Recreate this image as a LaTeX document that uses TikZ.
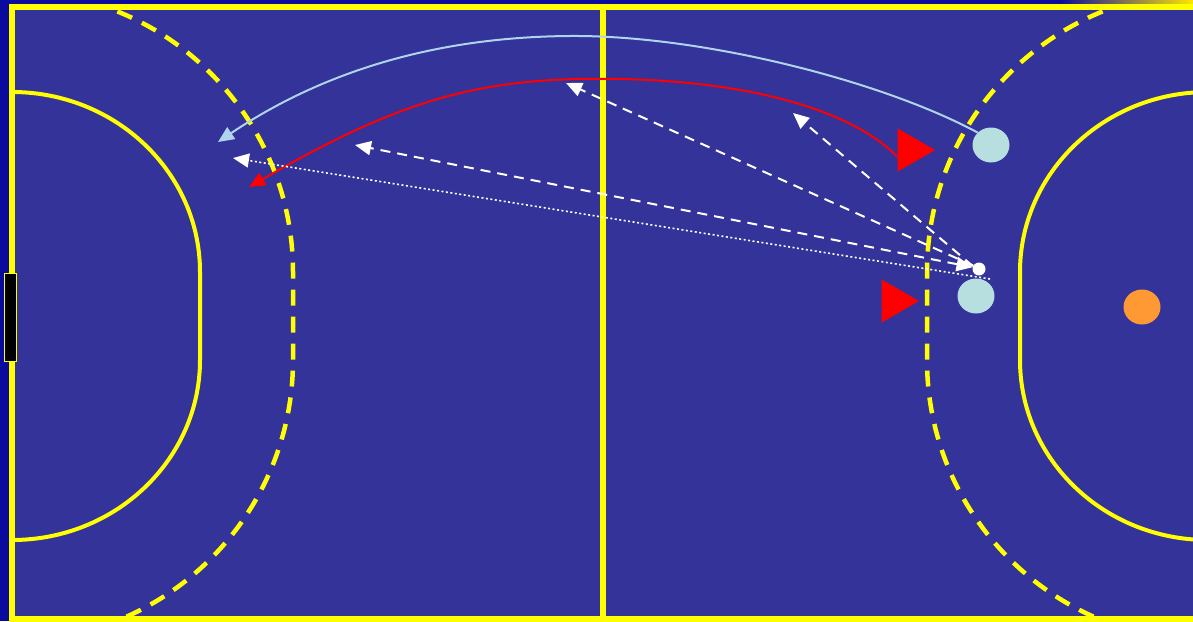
\documentclass[tikz,border=0pt]{standalone}
\usetikzlibrary{arrows.meta,shapes.geometric}
\definecolor{hbBack}{HTML}{0A0A9E}
\definecolor{hbCourt}{HTML}{333399}
\definecolor{hbLine}{HTML}{FFFF00}
\definecolor{hbDef}{HTML}{B8DFE0}
\definecolor{hbKeep}{HTML}{FF9933}
\definecolor{hbAtt}{HTML}{FF0000}
\definecolor{hbRun}{HTML}{B0D4EC}
\begin{document}
\begin{tikzpicture}[x=1pt,y=1pt,
                    courtline/.style={draw=hbLine,line width=6pt},
                    arealine/.style={draw=hbLine,line width=4pt},
                    freeline/.style={draw=hbLine,line width=4.5pt,dash pattern=on 16pt off 11pt},
                    defender/.style={ellipse,fill=hbDef,minimum width=37pt,minimum height=35pt,inner sep=0pt},
                    keeper/.style={ellipse,fill=hbKeep,minimum width=37pt,minimum height=35pt,inner sep=0pt},
                    attacker/.style={regular polygon,regular polygon sides=3,shape border rotate=-90,
                                     fill=hbAtt,minimum size=50pt,inner sep=0pt},
                    ballnode/.style={circle,fill=white,minimum size=13pt,inner sep=0pt},
                    tip/.style={-{Triangle[length=16pt,width=14pt]}},
                    run/.style={tip,draw=hbRun,line width=2pt},
                    move/.style={tip,draw=hbAtt,line width=2pt},
                    pass/.style={tip,draw=white,line width=2pt,dash pattern=on 10pt off 7pt},
                    shot/.style={tip,draw=white,line width=1.6pt,dash pattern=on 2pt off 2.5pt}]
  \useasboundingbox (0,0) rectangle (1193,-621);
  \fill[hbBack] (0,0) rectangle (1193,-621);
  \shade[left color=hbBack,right color=hbLine!80!orange] (1060,0) rectangle (1193,-5);
  \fill[hbCourt] (12,-7) rectangle (1200,-619);
  \begin{scope}
    \clip (12,-7) rectangle (1200,-619);
    \draw[arealine] (12,-92) arc[start angle=90,end angle=0,x radius=188,y radius=180]
      -- (200,-360) arc[start angle=0,end angle=-90,x radius=188,y radius=180];
    \draw[freeline] (12,9) arc[start angle=90,end angle=0,radius=281]
      -- (293,-360) arc[start angle=0,end angle=-90,radius=281];
    \draw[arealine] (1208,-92) arc[start angle=90,end angle=180,x radius=188,y radius=180]
      -- (1020,-360) arc[start angle=180,end angle=270,x radius=188,y radius=180];
    \draw[freeline] (1208,9) arc[start angle=90,end angle=180,radius=281]
      -- (927,-360) arc[start angle=180,end angle=270,radius=281];
  \end{scope}
  \draw[courtline] (1200,-7) -- (12,-7) -- (12,-619) -- (1200,-619);
  \draw[courtline] (603,-7) -- (603,-619);
  \node[draw=hbLine,fill=black,line width=1pt,minimum width=12pt,minimum height=88pt,inner sep=0pt]
    (goal) at (10.5,-317) {};

  \node[defender] (d1) at (991,-145) {};
  \node[defender] (d2) at (976,-296) {};
  \node[keeper] (gk) at (1142,-307) {};
  \node[attacker] (a1) at (910,-150) {};
  \node[attacker] (a2) at (894,-301) {};
  \node[ballnode] (ball) at (979,-269) {};

  \coordinate (runend) at (218,-142);
  \coordinate (moveend) at (249,-187);
  \coordinate (passA) at (566,-83);
  \coordinate (passB) at (793,-113);
  \coordinate (passC) at (355,-145);
  \coordinate (shotstart) at (990,-279);
  \coordinate (shotend) at (233,-158);

  \draw[run] (d1.137) .. controls (880,-80) and (700,-35) .. (570,-36)
    .. controls (420,-37) and (310,-80) .. (runend);
  \draw[move] (a1.208) .. controls (860,-118) and (770,-82) .. (620,-79)
    .. controls (480,-76) and (400,-100) .. (moveend);
  \draw[pass] (ball.150) -- (passA);
  \draw[pass] (ball.155) -- (passB);
  \draw[pass,{Triangle[length=16pt,width=14pt]}-{Triangle[length=16pt,width=14pt]}] (ball.165) -- (passC);
  \draw[shot] (shotstart) -- (shotend);
\end{tikzpicture}
\end{document}
